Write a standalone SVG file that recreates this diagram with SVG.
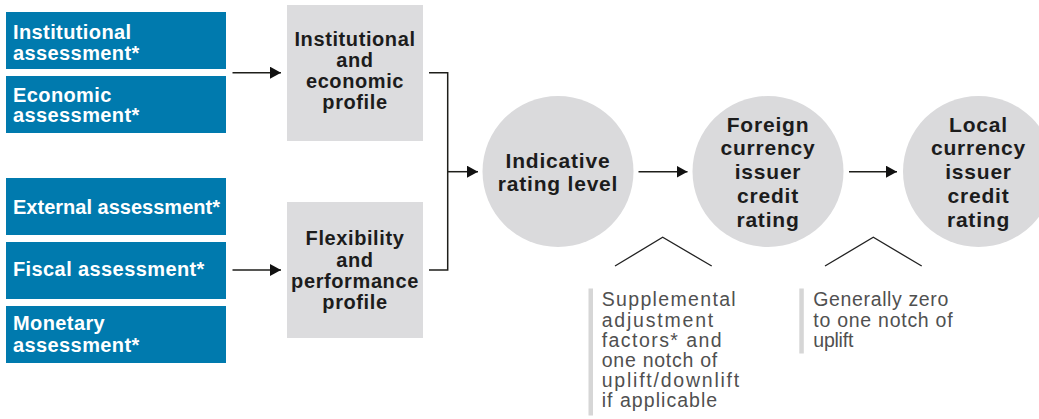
<svg xmlns="http://www.w3.org/2000/svg" width="1039" height="419" viewBox="0 0 1039 419">
<style>
  .blue { fill: #007aae; }
  .bt { font-family: "Liberation Sans", Arial, sans-serif; font-weight: bold; font-size: 20px; fill: #ffffff; letter-spacing: 0.4px; }
  .gbox { fill: #dcdcde; }
  .gt { font-family: "Liberation Sans", Arial, sans-serif; font-weight: bold; font-size: 20px; fill: #1c1c1c; letter-spacing: 0.6px; text-anchor: middle; }
  .circ { fill: #dadadc; }
  .ct { font-family: "Liberation Sans", Arial, sans-serif; font-weight: bold; font-size: 21px; fill: #1c1c1c; letter-spacing: 0.8px; text-anchor: middle; }
  .conn { fill: none; stroke: #1e1e1a; stroke-width: 1.5; }
  .caret { fill: none; stroke: #222222; stroke-width: 1.3; }
  .bar { fill: #d6d6d6; }
  .nt { font-family: "Liberation Sans", Arial, sans-serif; font-size: 19.5px; fill: #505050; }
</style>
<defs>
  <marker id="ah" markerUnits="userSpaceOnUse" markerWidth="12" markerHeight="12" refX="11" refY="6" orient="auto">
    <path d="M0,0 L11,6 L0,12 Z" fill="#111111"/>
  </marker>
</defs>

<g id="institutional-assessment">
  <rect class="blue" x="6" y="12" width="220" height="57"/>
  <text class="bt" x="13" y="39">Institutional</text>
  <text class="bt" x="13" y="60">assessment*</text>
</g>
<g id="economic-assessment">
  <rect class="blue" x="6" y="76" width="220" height="57"/>
  <text class="bt" x="13" y="101.5">Economic</text>
  <text class="bt" x="13" y="122">assessment*</text>
</g>
<g id="external-assessment">
  <rect class="blue" x="6" y="178" width="220" height="57"/>
  <text class="bt" x="13" y="213.5" style="letter-spacing:0" textLength="207" lengthAdjust="spacing">External assessment*</text>
</g>
<g id="fiscal-assessment">
  <rect class="blue" x="6" y="242" width="220" height="57"/>
  <text class="bt" x="13" y="276">Fiscal assessment*</text>
</g>
<g id="monetary-assessment">
  <rect class="blue" x="6" y="306" width="220" height="57"/>
  <text class="bt" x="13" y="330">Monetary</text>
  <text class="bt" x="13" y="351.5">assessment*</text>
</g>

<g id="institutional-economic-profile">
  <rect class="gbox" x="287" y="5" width="136" height="136"/>
  <text class="gt" x="355" y="46">Institutional</text>
  <text class="gt" x="355" y="67">and</text>
  <text class="gt" x="355" y="88">economic</text>
  <text class="gt" x="355" y="109">profile</text>
</g>
<g id="flexibility-performance-profile">
  <rect class="gbox" x="287" y="202" width="136" height="136"/>
  <text class="gt" x="355" y="245">Flexibility</text>
  <text class="gt" x="355" y="266.5">and</text>
  <text class="gt" x="355" y="288">performance</text>
  <text class="gt" x="355" y="309">profile</text>
</g>

<g id="indicative-rating-level">
  <circle class="circ" cx="558" cy="171.5" r="75.5"/>
  <text class="ct" x="558" y="167.5">Indicative</text>
  <text class="ct" x="558" y="191">rating level</text>
</g>
<g id="foreign-currency-rating">
  <circle class="circ" cx="768" cy="171.5" r="75.5"/>
  <text class="ct" x="768" y="131.7">Foreign</text>
  <text class="ct" x="768" y="155.4">currency</text>
  <text class="ct" x="768" y="179.1">issuer</text>
  <text class="ct" x="768" y="202.8">credit</text>
  <text class="ct" x="768" y="226.5">rating</text>
</g>
<g id="local-currency-rating">
  <circle class="circ" cx="978.5" cy="171.5" r="75.5"/>
  <text class="ct" x="978.5" y="131.7">Local</text>
  <text class="ct" x="978.5" y="155.4">currency</text>
  <text class="ct" x="978.5" y="179.1">issuer</text>
  <text class="ct" x="978.5" y="202.8">credit</text>
  <text class="ct" x="978.5" y="226.5">rating</text>
</g>

<g id="connectors">
  <line class="conn" x1="232.5" y1="72.7" x2="281" y2="72.7" marker-end="url(#ah)"/>
  <line class="conn" x1="232.5" y1="270" x2="281" y2="270" marker-end="url(#ah)"/>
  <polyline class="conn" points="429,72.7 447.7,72.7 447.7,270 429,270"/>
  <line class="conn" x1="447.7" y1="171.7" x2="478" y2="171.7" marker-end="url(#ah)"/>
  <line class="conn" x1="638.5" y1="171.7" x2="687.5" y2="171.7" marker-end="url(#ah)"/>
  <line class="conn" x1="849" y1="171.7" x2="897" y2="171.7" marker-end="url(#ah)"/>
</g>

<g id="note-supplemental">
  <polyline class="caret" points="615,266 662.7,237.3 711.7,266"/>
  <rect class="bar" x="588.5" y="288.5" width="4.5" height="127"/>
  <text class="nt" x="601.7" y="306" textLength="134" lengthAdjust="spacing">Supplemental</text>
  <text class="nt" x="601.7" y="326.5" textLength="111.5" lengthAdjust="spacing">adjustment</text>
  <text class="nt" x="601.7" y="346.7" textLength="120" lengthAdjust="spacing">factors* and</text>
  <text class="nt" x="601.7" y="366.7" textLength="115.5" lengthAdjust="spacing">one notch of</text>
  <text class="nt" x="601.7" y="386.7" textLength="137.5" lengthAdjust="spacing">uplift/downlift</text>
  <text class="nt" x="601.7" y="406.7" textLength="115.5" lengthAdjust="spacing">if applicable</text>
</g>
<g id="note-uplift">
  <polyline class="caret" points="825,266 873.3,237.3 921.7,266"/>
  <rect class="bar" x="799.3" y="288.5" width="4.5" height="65"/>
  <text class="nt" x="813.3" y="306" textLength="135" lengthAdjust="spacing">Generally zero</text>
  <text class="nt" x="813.3" y="326.5" textLength="139.3" lengthAdjust="spacing">to one notch of</text>
  <text class="nt" x="813.3" y="346.7" textLength="40" lengthAdjust="spacing">uplift</text>
</g>
</svg>
